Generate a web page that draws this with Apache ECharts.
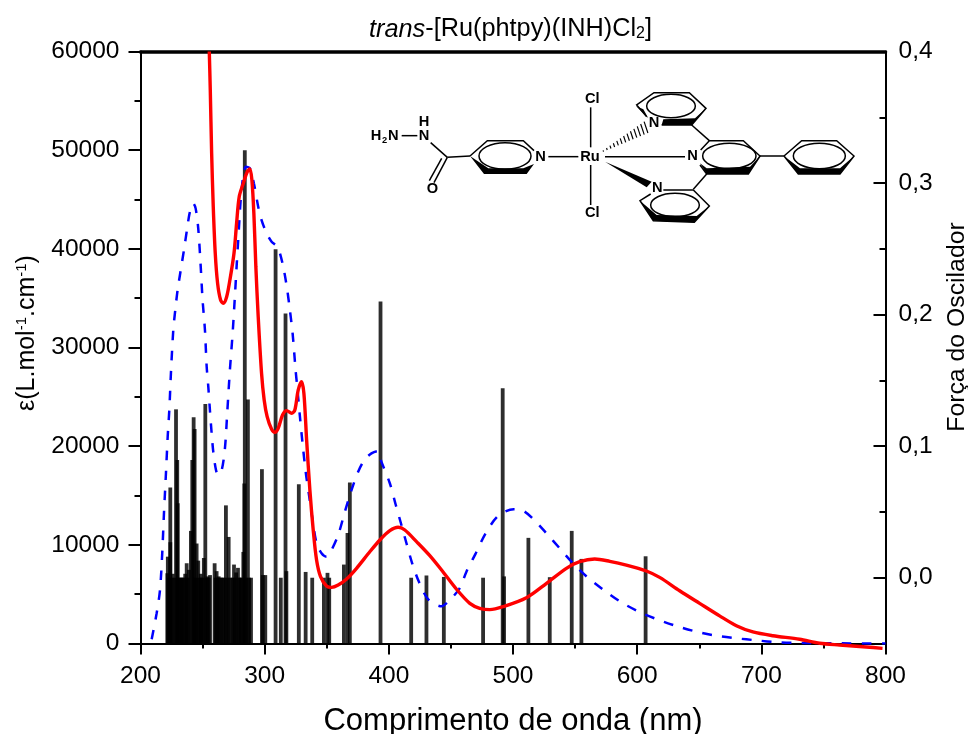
<!DOCTYPE html>
<html>
<head>
<meta charset="utf-8">
<title>trans-[Ru(phtpy)(INH)Cl2]</title>
<script src="https://cdn.jsdelivr.net/npm/echarts@6/dist/echarts.min.js"></script>
<style>
  html, body { margin: 0; padding: 0; background: #fff; }
  #chart { width: 968px; height: 734px; }
</style>
</head>
<body>
<div id="chart"></div>
<script>
// ---- dados ----
const TITLE_ITALIC = 'trans';
const TITLE_REST = '-[Ru(phtpy)(INH)Cl';
const X_NAME = 'Comprimento de onda (nm)';
const RIGHT_NAME = 'Força do Oscilador';
const OSC_TICKS = [0, 0.1, 0.2, 0.3, 0.4];

// linha vermelha (experimental)
const redWl = [255.4, 256.2, 257.3, 258.6, 260.2, 262.1, 264.5, 266.7, 269.4, 272, 275.3, 277.4, 279.5, 282.8, 286, 288.1, 289.7, 291.3, 292.9, 294.8, 297.5, 299.6, 302, 305.6, 308.3, 310.9, 314.4, 317.7, 321.7, 324.3, 327, 329.7, 331.6, 333.8, 336.4, 339.1, 341.8, 345, 349.8, 353.9, 359.2, 366, 374, 384.7, 392.8, 400.8, 407.5, 412.9, 422.3, 433, 443.7, 454.5, 465.2, 473.2, 481.3, 492, 510.8, 527, 543, 553.7, 565.8, 577.9, 591.3, 607.4, 618.1, 634.2, 650.3, 666.4, 679.9, 693.2, 709.3, 730.8, 747, 763, 784.5, 797.6];
const redEps = [60000, 56100, 49680, 44270, 39550, 36500, 34810, 34480, 35150, 36840, 39550, 42590, 45280, 46640, 47820, 48090, 46980, 43600, 38190, 33120, 27380, 24680, 22990, 21710, 21400, 21810, 23160, 23600, 23330, 23660, 25690, 26530, 25360, 20620, 15560, 11500, 8460, 6770, 5830, 5690, 5930, 6540, 7620, 9300, 10490, 11430, 11780, 11500, 10320, 8900, 7250, 5500, 4070, 3570, 3430, 3730, 4640, 6100, 7620, 8290, 8560, 8330, 7950, 7350, 6700, 5350, 4070, 2800, 1800, 1170, 790, 430, 20, -150, -350, -490];

// linha azul tracejada (calculada)
const blueWl = [209, 213, 215.7, 217.5, 218.9, 220.5, 221.9, 223.2, 224.5, 226.4, 228, 229.9, 232.4, 235, 237.6, 239.8, 242.5, 244.4, 246.5, 248.5, 250, 251.9, 253.3, 254.6, 255.9, 257.3, 258.6, 260.8, 262.6, 265.4, 268, 269.9, 272, 274.2, 276, 277.4, 278.7, 281.4, 284.9, 288.1, 291.3, 294.8, 297.5, 301.6, 305.6, 309.6, 312.3, 315.5, 318.2, 320.3, 322.5, 324.9, 326.2, 328.4, 330.5, 333.2, 335.9, 338.6, 341.8, 345.8, 349.8, 352.5, 359.2, 364.6, 370, 375.3, 380.7, 386, 391, 394, 400.8, 405.6, 409.4, 414.2, 418.8, 424.4, 431.7, 442.4, 449.1, 457, 462.5, 470, 478, 488, 500.6, 508, 515.7, 527.4, 537.6, 548.3, 560.4, 573.8, 587.3, 602, 615.5, 631.6, 647.7, 663.8, 679.9, 696, 713.4, 730.8, 760, 800];
const blueEps = [430, 3060, 5420, 9140, 13200, 17250, 20960, 23660, 27380, 31770, 33800, 35830, 37850, 39880, 42080, 43760, 44610, 44100, 42080, 38190, 34810, 31770, 28050, 26030, 23660, 21300, 19440, 17580, 17080, 17580, 19780, 23490, 27720, 31440, 35150, 38190, 40890, 45960, 48330, 48160, 46640, 44270, 42920, 41570, 40720, 40280, 39550, 37850, 35830, 33800, 31440, 27720, 26030, 22990, 20290, 17250, 14880, 12520, 10160, 9140, 8800, 9140, 11000, 13360, 15560, 17410, 18670, 19270, 19500, 18430, 16240, 14040, 12340, 10160, 8130, 6200, 4480, 3770, 4410, 5590, 7280, 9140, 11170, 12920, 13600, 13460, 12690, 11100, 9650, 8130, 6670, 5350, 4170, 3190, 2480, 1770, 1200, 790, 530, 320, 120, 50, 20, 0];

// barras (força do oscilador)
const stickWl = [221.6, 222, 223, 224, 224, 225, 226, 227.5, 228.6, 229.6, 230, 231, 232, 233, 234, 235, 236, 237.2, 238, 239, 240.6, 241.7, 242.8, 243.6, 244.5, 245.2, 246.5, 247.5, 248.5, 249, 250, 251, 252.2, 253, 254, 255, 256, 259.7, 260.5, 261.3, 262, 263, 264, 265, 266.5, 267.5, 268.8, 270, 271, 272.5, 274, 275.3, 276, 277, 278.5, 279.5, 280.5, 281.5, 282.8, 283.6, 284, 285, 286.5, 287.5, 289, 297.8, 298.5, 300.5, 308.8, 313, 316.8, 317.5, 327.5, 333, 338.3, 347.7, 350.6, 352, 363.8, 366.7, 368.6, 393.3, 418, 430.3, 444.3, 475.9, 491.7, 492.8, 512.4, 529.6, 547.3, 555.1, 606.8];
const stickF = [0.0034, 0.016, 0, 0.0686, 0.027, 0, 0.003, 0, 0.128, 0.0894, 0.0566, 0, 0, 0, 0, 0, 0.003, 0.011, 0, 0.006, 0.0356, 0.0894, 0.122, 0.113, 0, 0.026, 0.013, 0, 0.003, 0, 0, 0.015, 0.132, 0, 0.001, 0, 0.002, 0.011, 0, 0.005, 0, 0.001, 0, 0, 0, 0, 0.055, 0, 0.031, 0, 0, 0.01, 0, 0.004, 0.0075, 0, 0, 0, 0.0196, 0.0717, 0.325, 0, 0.1355, 0, 0, 0.0825, 0.002, 0.002, 0.2496, 0, 0.2009, 0.005, 0.071, 0.0044, 0, 0, 0.0037, 0, 0.01, 0.034, 0.0724, 0.21, 0, 0.0017, 0.0006, 0, 0.144, 0.001, 0.0303, 0.0004, 0.0356, 0.0143, 0.0163];

const FONT = '"Liberation Sans", Arial, sans-serif';
const zip = (a, b) => a.map((v, i) => [v, b[i]]);

// ---- estrutura da molécula (coordenadas da figura inserida) ----
function bond(x1, y1, x2, y2, w) {
  return { type: 'line', shape: { x1, y1, x2, y2 }, style: { stroke: '#000', lineWidth: w || 4.5 } };
}
function poly(points) {
  return { type: 'polygon', shape: { points }, style: { fill: '#000' } };
}
function ring(points, cx, cy, rx, ry) {
  return [
    { type: 'polyline', shape: { points }, style: { fill: 'none', stroke: '#000', lineWidth: 4.5 } },
    { type: 'ellipse', shape: { cx, cy, rx, ry }, style: { fill: 'none', stroke: '#000', lineWidth: 4.5 } },
  ];
}
function atom(text, x, y, size) {
  return {
    type: 'text', x, y,
    style: { text, fill: '#000', font: `bold ${size || 44}px ${FONT}`, align: 'center', verticalAlign: 'middle' },
  };
}
function hashWedge() {
  const out = [];
  for (let i = 0; i < 13; i++) {
    const t = i / 12;
    const cx = 730 + t * 128, cy = 243 - t * 71, h = 2 + t * 17;
    out.push(bond(cx - h * 0.3, cy - h * 0.9, cx + h * 0.3, cy + h * 0.9, 3.5));
  }
  return out;
}
const molecule = [].concat(
  atom('H', 48, 198), atom('2', 74, 211, 28), atom('N', 100, 198),
  atom('H', 192, 157), atom('N', 192, 198), atom('O', 217, 358),
  atom('N', 542, 262), atom('Ru', 690, 260), atom('Cl', 697, 87), atom('Cl', 697, 428),
  atom('N', 882, 158), atom('N', 998, 258), atom('N', 892, 355),
  bond(125, 197, 172, 197), bond(212, 218, 262, 262), bond(262, 262, 222, 338),
  bond(245, 265, 208, 332), bond(262, 262, 330, 258),
  bond(565, 260, 655, 260), bond(735, 260, 975, 260),
  bond(692, 112, 692, 232), bond(692, 285, 692, 405),
  hashWedge(),
  poly([[735, 275], [875, 335], [860, 352]]),
  ring([[330, 258], [382, 212], [490, 212], [522, 242]], 435, 258, 78, 40),
  poly([[330, 258], [372, 312], [500, 312], [522, 282], [490, 295], [385, 295]]),
  ring([[860, 140], [830, 105], [882, 68], [988, 68], [1038, 115], [995, 165], [905, 165]], 933, 108, 73, 35),
  poly([[910, 148], [1005, 145], [1038, 115], [995, 165], [905, 165]]),
  poly([[828, 108], [865, 145], [850, 118]]),
  bond(995, 165, 1048, 212),
  ring([[1022, 240], [1048, 212], [1150, 212], [1200, 258], [1165, 312], [1040, 312], [1020, 285]], 1108, 258, 80, 38),
  poly([[1020, 280], [1040, 312], [1165, 312], [1200, 258], [1170, 290], [1040, 295]]),
  bond(1040, 312, 1000, 358), bond(1200, 258, 1272, 258),
  ring([[910, 360], [1000, 360], [1048, 408], [1003, 457], [880, 452], [840, 392], [872, 372]], 945, 405, 73, 35),
  poly([[840, 392], [880, 452], [1003, 457], [1048, 408], [1010, 438], [890, 435]]),
  ring([[1272, 258], [1325, 212], [1430, 212], [1482, 258], [1440, 312], [1315, 312], [1272, 258]], 1378, 258, 78, 38),
  poly([[1272, 258], [1315, 312], [1440, 312], [1482, 258], [1440, 295], [1320, 295]])
);

// ---- gráfico ----
const chart = echarts.init(document.getElementById('chart'), null, { renderer: 'canvas' });
const axisLine = w => ({ show: true, onZero: false, lineStyle: { color: '#000', width: w } });

chart.setOption({
  animation: false,
  backgroundColor: '#fff',
  title: {
    left: 505.5, top: 12, textAlign: 'center',
    text: `{i|${TITLE_ITALIC}}{n|${TITLE_REST}}{s|2}{n|]}`,
    textStyle: {
      fontWeight: 'normal',
      rich: {
        i: { fontFamily: FONT, fontSize: 25.3, fontStyle: 'italic', fontWeight: 'normal', color: '#000' },
        n: { fontFamily: FONT, fontSize: 25.3, fontWeight: 'normal', color: '#000' },
        s: { fontFamily: FONT, fontSize: 16, fontWeight: 'normal', color: '#000', verticalAlign: 'bottom', padding: [8, 0, 0, 0] },
      },
    },
  },
  grid: { left: 140.5, right: 82.5, top: 51.5, bottom: 90.5, outerBoundsMode: 'none' },
  xAxis: [
    {
      type: 'value', min: 200, max: 800, interval: 100, position: 'bottom',
      name: X_NAME, nameLocation: 'middle', nameGap: 62,
      nameTextStyle: { fontFamily: FONT, fontSize: 31, color: '#000' },
      axisLine: axisLine(2),
      axisTick: { show: true, length: 11, lineStyle: { color: '#000', width: 2 } },
      minorTick: { show: true, splitNumber: 2, length: 5, lineStyle: { color: '#000', width: 2 } },
      axisLabel: { fontFamily: FONT, fontSize: 24.5, color: '#000', margin: 20 },
      splitLine: { show: false },
    },
    {
      type: 'value', min: 200, max: 800, interval: 100, position: 'top',
      axisLine: axisLine(3.5), axisTick: { show: false }, axisLabel: { show: false }, splitLine: { show: false },
    },
  ],
  yAxis: [
    {
      type: 'value', min: 0, max: 60000, interval: 10000, position: 'left',
      name: '{n|ε(L.mol}{s|-1}{n|.cm}{s|-1}{n|)}', nameLocation: 'middle', nameGap: 101, nameRotate: 90,
      nameTextStyle: {
        padding: [0, 0, 0, 29],
        rich: {
          n: { fontFamily: FONT, fontSize: 25, color: '#000' },
          s: { fontFamily: FONT, fontSize: 15, color: '#000', verticalAlign: 'top', padding: [0, 0, 8, 0] },
        },
      },
      axisLine: axisLine(2),
      axisTick: { show: true, length: 12, lineStyle: { color: '#000', width: 2 } },
      minorTick: { show: true, splitNumber: 2, length: 6, lineStyle: { color: '#000', width: 2 } },
      axisLabel: { fontFamily: FONT, fontSize: 24.5, color: '#000', margin: 21, formatter: v => String(v) },
      splitLine: { show: false },
    },
    {
      type: 'value', min: -0.05, max: 0.4, interval: 0.05, position: 'right',
      name: RIGHT_NAME, nameLocation: 'middle', nameGap: 59, nameRotate: 90,
      nameTextStyle: { fontFamily: FONT, fontSize: 24.8, color: '#000', align: 'center', padding: [0, 0, 0, 41] },
      axisLine: axisLine(2),
      axisTick: { show: true, inside: true, length: 12, customValues: OSC_TICKS, lineStyle: { color: '#000', width: 2 } },
      axisLabel: {
        fontFamily: FONT, fontSize: 24.5, color: '#000', margin: 13, customValues: OSC_TICKS,
        formatter: v => v.toFixed(1).replace('.', ','),
      },
      splitLine: { show: false },
    },
    {
      // ticks menores do eixo direito
      type: 'value', min: -0.05, max: 0.4, interval: 0.05, position: 'right',
      axisLine: { show: false },
      axisTick: { show: true, inside: true, length: 6, lineStyle: { color: '#000', width: 2 } },
      axisLabel: { show: false }, splitLine: { show: false },
    },
  ],
  series: [
    {
      type: 'custom', xAxisIndex: 0, yAxisIndex: 1, z: 2,
      data: zip(stickWl, stickF),
      encode: { x: 0, y: 1 },
      renderItem(params, api) {
        const top = api.coord([api.value(0), api.value(1)]);
        const base = api.coord([api.value(0), -0.05]);
        return {
          type: 'rect',
          shape: { x: top[0] - 1.9, y: top[1], width: 3.8, height: base[1] - top[1] },
          style: { fill: 'rgba(0,0,0,0.82)' },
        };
      },
    },
    {
      type: 'line', xAxisIndex: 0, yAxisIndex: 0, z: 3,
      data: zip(blueWl, blueEps), showSymbol: false, smooth: 0.3,
      lineStyle: { color: '#0000ff', width: 2.5, type: [9.5, 10.5] },
    },
    {
      type: 'line', xAxisIndex: 0, yAxisIndex: 0, z: 4, clip: false,
      data: zip(redWl, redEps), showSymbol: false, smooth: 0.3,
      lineStyle: { color: '#ff0000', width: 3.4 },
    },
  ],
  graphic: [{ type: 'group', x: 360, y: 70, scaleX: 1 / 3, scaleY: 1 / 3, z: 10, children: molecule }],
});
</script>
</body>
</html>
